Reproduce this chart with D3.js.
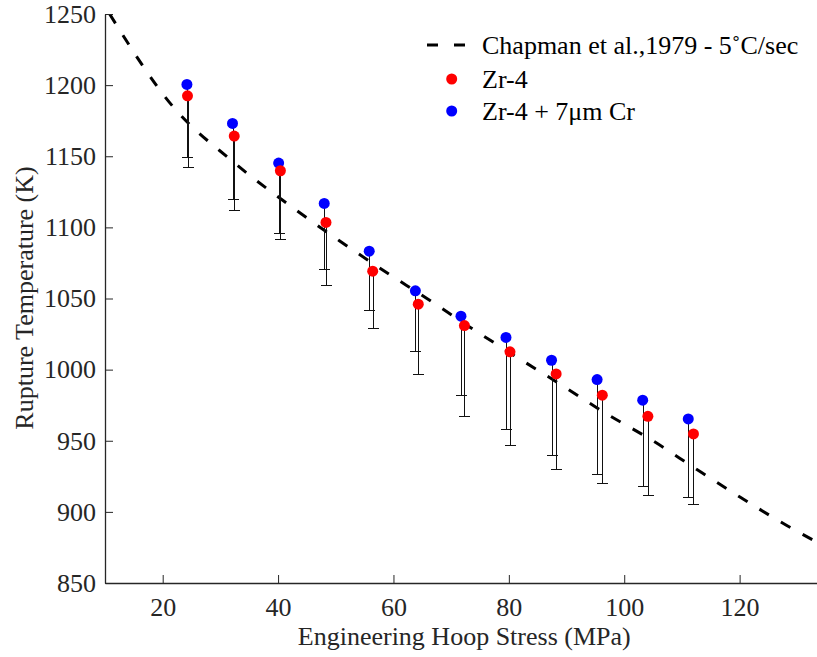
<!DOCTYPE html>
<html>
<head>
<meta charset="utf-8">
<script src="https://cdn.jsdelivr.net/npm/d3@7"></script>
<style>
    body { margin: 0; background: #fff; }
    svg, svg text { font-family: "Liberation Serif", "Times New Roman", serif; }
    svg { display: block; }
</style>
</head>
<body>
<svg id="chart" width="817" height="657"></svg>
<script>
"use strict";

// Chapman et al. 1979 correlation
const chapmanStress = [10.8, 21.8, 32.0, 42.9, 50.5, 58.0, 65.8, 73.4, 81.5, 89.2, 96.7, 104.8, 112.6, 120.2, 128.1, 133.5];
const chapmanTemp = [1250, 1184.8, 1146.8, 1112.8, 1091.0, 1070.4, 1050.0, 1029.5, 1008.5, 989.0, 969.5, 950.4, 929.8, 910.1, 890.6, 878.5];

// Zr-4
const zr4Stress = [24.3, 32.4, 40.4, 48.3, 56.4, 64.3, 72.3, 80.2, 88.2, 96.2, 104.1, 112.0];
const zr4Temp = [1192.5, 1164.2, 1139.8, 1103.5, 1069.2, 1046.0, 1031.0, 1012.5, 997.0, 982.0, 967.2, 954.8];
const zr4Low = [1142.2, 1112.1, 1091.7, 1059.6, 1029.4, 996.6, 967.5, 947.3, 930.2, 920.1, 911.7, 905.6];

// Zr-4 + 7um Cr
const crStress = [24.2, 32.1, 40.1, 48.0, 55.8, 63.8, 71.7, 79.5, 87.4, 95.3, 103.2, 111.1];
const crTemp = [1200.5, 1173.1, 1145.2, 1116.8, 1083.3, 1055.4, 1037.6, 1022.6, 1006.6, 993.0, 978.5, 965.3];
const crLow = [1149.2, 1120.1, 1095.7, 1070.8, 1041.6, 1013.2, 982.0, 958.1, 940.3, 926.7, 918.0, 910.8];

const xTicks = [20, 40, 60, 80, 100, 120];
const yTicks = [850, 900, 950, 1000, 1050, 1100, 1150, 1200, 1250];

const legendLabels = ["Chapman et al.,1979 - 5\u02DAC/sec", "Zr-4", "Zr-4 + 7\u03BCm Cr"];

const axisColor = "#262626";
const serif = "Liberation Serif";
const plotLeft = 105, plotRight = 817.5, plotTop = 14, plotBottom = 583;

const svg = d3.select("#chart");

const x = d3.scaleLinear().domain([10, 133.5]).range([plotLeft, plotRight]);
const y = d3.scaleLinear().domain([850, 1250]).range([plotBottom, plotTop]);

svg.append("clipPath").attr("id", "plotClip")
    .append("rect")
    .attr("x", plotLeft).attr("y", plotTop)
    .attr("width", plotRight - plotLeft).attr("height", plotBottom - plotTop);

const plot = svg.append("g").attr("clip-path", "url(#plotClip)");

// dashed reference curve
const chapman = chapmanStress.map((s, i) => [s, chapmanTemp[i]]);
plot.append("path")
    .datum(chapman)
    .attr("fill", "none")
    .attr("stroke", "#000")
    .attr("stroke-width", 3)
    .attr("stroke-dasharray", "11,14")
    .attr("d", d3.line()
        .x(d => x(d[0]))
        .y(d => y(d[1]))
        .curve(d3.curveMonotoneX));

// one-sided (lower) error bars
function errorBars(stress, low, temp) {
    const g = plot.append("g")
        .attr("stroke", "#111")
        .attr("stroke-width", 1);
    stress.forEach(function (s, i) {
        const cx = Math.round(x(s)) + 0.5;
        const yl = Math.round(y(low[i])) + 0.5;
        g.append("line")
            .attr("x1", cx).attr("x2", cx)
            .attr("y1", y(temp[i])).attr("y2", yl);
        g.append("line")
            .attr("x1", cx - 5.5).attr("x2", cx + 5.5)
            .attr("y1", yl).attr("y2", yl);
    });
}
errorBars(crStress, crLow, crTemp);
errorBars(zr4Stress, zr4Low, zr4Temp);

plot.append("g").selectAll("circle")
    .data(crStress)
    .enter()
    .append("circle")
    .attr("cx", d => x(d))
    .attr("cy", (d, i) => y(crTemp[i]))
    .attr("r", 5.5)
    .attr("fill", "#0000ff");

plot.append("g").selectAll("circle")
    .data(zr4Stress)
    .enter()
    .append("circle")
    .attr("cx", d => x(d))
    .attr("cy", (d, i) => y(zr4Temp[i]))
    .attr("r", 5.5)
    .attr("fill", "#ff0000");

// axes, ticks point inwards
const fmt = d3.format("d");
const xAxis = svg.append("g")
    .attr("transform", "translate(0," + plotBottom + ")")
    .call(d3.axisBottom(x).tickValues(xTicks).tickFormat(fmt)
        .tickSizeInner(-8).tickSizeOuter(0).tickPadding(15));
const yAxis = svg.append("g")
    .attr("transform", "translate(" + plotLeft + ",0)")
    .call(d3.axisLeft(y).tickValues(yTicks).tickFormat(fmt)
        .tickSizeInner(-8).tickSizeOuter(0).tickPadding(9));

[xAxis, yAxis].forEach(function (a) {
    a.attr("font-family", serif).attr("font-size", 26);
    a.select(".domain").attr("stroke", axisColor).attr("stroke-width", 1.3);
    a.selectAll(".tick line").attr("stroke", axisColor).attr("stroke-width", 1);
    a.selectAll(".tick text").attr("fill", axisColor);
});
xAxis.selectAll(".tick text").attr("dy", "0.71em");

svg.append("text")
    .attr("x", (plotLeft + plotRight) / 2 + 3)
    .attr("y", 645)
    .attr("text-anchor", "middle")
    .attr("font-family", serif)
    .attr("font-size", 26)
    .attr("fill", axisColor)
    .text("Engineering Hoop Stress (MPa)");

svg.append("text")
    .attr("transform", "translate(33,298) rotate(-90)")
    .attr("text-anchor", "middle")
    .attr("font-family", serif)
    .attr("font-size", 26)
    .attr("fill", axisColor)
    .text("Rupture Temperature (K)");

// legend
const legend = svg.append("g");
const rowY = [45, 79, 111];
legend.append("line")
    .attr("x1", 427).attr("x2", 465)
    .attr("y1", rowY[0]).attr("y2", rowY[0])
    .attr("stroke", "#000")
    .attr("stroke-width", 3)
    .attr("stroke-dasharray", "11,16");
legend.append("circle").attr("cx", 451.7).attr("cy", rowY[1]).attr("r", 5.5).attr("fill", "#ff0000");
legend.append("circle").attr("cx", 451.7).attr("cy", rowY[2]).attr("r", 5.5).attr("fill", "#0000ff");
legend.selectAll("text")
    .data(legendLabels)
    .enter()
    .append("text")
    .attr("x", 482)
    .attr("y", (d, i) => rowY[i])
    .attr("dy", "0.33em")
    .attr("font-family", serif)
    .attr("font-size", 26)
    .attr("fill", "#000")
    .text(d => d);
</script>
</body>
</html>
